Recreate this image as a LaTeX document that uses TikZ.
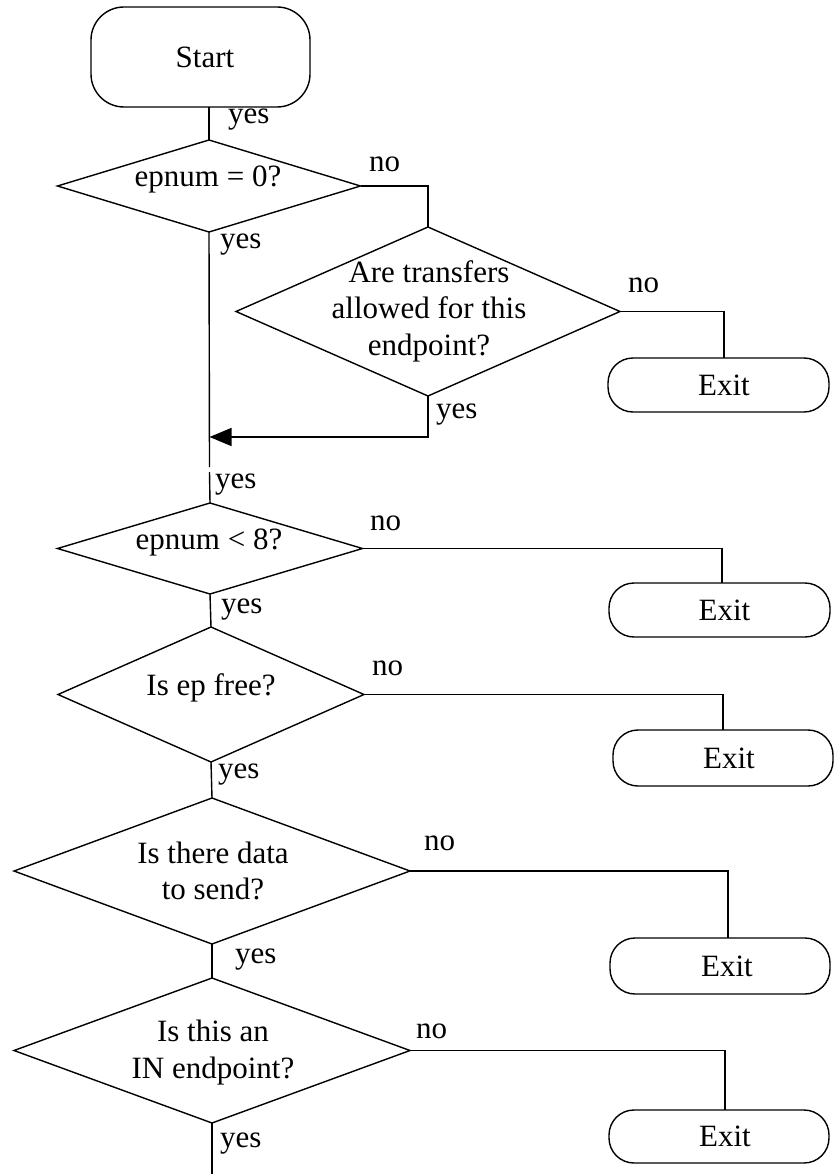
\documentclass[tikz,border=0pt]{standalone}
\usepackage{fontspec}
\setmainfont{Liberation Serif}
\usetikzlibrary{arrows.meta,shapes.geometric}
\begin{document}
\begin{tikzpicture}[x=1pt,y=-1pt,line width=1.4pt,
  every node/.style={font=\fontsize{31}{36.5}\selectfont,inner sep=0pt,outer sep=0pt},
  term/.style={draw,rectangle,rounded corners=25pt,minimum width=221pt,minimum height=54pt},
  dia/.style={draw,diamond},
  lbl/.style={anchor=base west},
  txt/.style={anchor=base},
  mtxt/.style={align=center}]
\useasboundingbox (0,0) rectangle (833,1174);
% shapes
\node[term,rounded corners=33pt,minimum width=219pt,minimum height=100pt,label={[xshift=4.5pt]center:Start}] (start) at (200.5,57) {};
\node[dia,minimum width=303pt,minimum height=92pt] (d1) at (209,186) {};
\node[txt] (t1) at (208,187) {epnum = 0?};
\node[dia,minimum width=384pt,minimum height=169pt] (d2) at (428,311.5) {};
\node[mtxt] (t2) at (429,311) {Are transfers\\allowed for this\\endpoint?};
\node[term,label={[xshift=5.5pt]center:Exit}] (e1) at (718.5,385) {};
\node[dia,minimum width=305pt,minimum height=91pt] (d3) at (210,548.5) {};
\node[txt] (t3) at (209,549) {epnum < 8?};
\node[term,label={[xshift=5pt]center:Exit}] (e2) at (719.5,610) {};
\node[dia,minimum width=306pt,minimum height=135pt] (d4) at (211,694.5) {};
\node[txt] (t4) at (211,695) {Is ep free?};
\node[term,minimum width=220pt,minimum height=56pt,label={[xshift=6pt]center:Exit}] (e3) at (723,758) {};
\node[dia,minimum width=396pt,minimum height=146pt] (d5) at (212,871) {};
\node[mtxt] (t5) at (213,871) {Is there data\\to send?};
\node[term,minimum width=220pt,minimum height=56pt,label={[xshift=7pt]center:Exit}] (e4) at (720,966) {};
\node[dia,minimum width=396pt,minimum height=145pt] (d6) at (212,1050.5) {};
\node[mtxt] (t6) at (213,1052.3) {Is this an\\IN endpoint?};
\node[term,minimum width=220pt,minimum height=53pt,label={[xshift=6pt]center:Exit}] (e5) at (719,1136.5) {};
% free ends
\coordinate (g1) at (209.5,467);
\coordinate (g2) at (209.5,472);
\coordinate (j) at (209.5,437);
\coordinate (bottom) at (212,1174);
% connectors
\draw (d1.north |- start.south) -- (d1.north);
\draw (d1.east) -| (d2.north);
\draw (d2.east) -| ([xshift=5.5pt]e1.north);
\draw (d1.south) -- (g1);
\draw (g2) -- (d3.north);
\draw[-{Triangle[length=22pt,width=18pt]}] (d2.south) |- (j);
\draw (d3.east) -| ([xshift=2.5pt]e2.north);
\draw (d3.south) -- (d4.north);
\draw (d4.east) -| (e3.north);
\draw (d4.south) -- (d5.north);
\draw (d5.east) -| ([xshift=8pt]e4.north);
\draw (d5.south) -- (d6.north);
\draw (d6.east) -| ([xshift=6pt]e5.north);
\draw (d6.south) -- (bottom);
% labels
\node[lbl] (y1) at (228,124) {yes};
\node[lbl] (n1) at (369,172) {no};
\node[lbl] (y2) at (220,248) {yes};
\node[lbl] (n2) at (628,292) {no};
\node[lbl] (y3) at (436,418) {yes};
\node[lbl] (y4) at (215,488) {yes};
\node[lbl] (n3) at (370,530) {no};
\node[lbl] (y5) at (221,613) {yes};
\node[lbl] (n4) at (372,675) {no};
\node[lbl] (y6) at (218,778) {yes};
\node[lbl] (n5) at (424,850) {no};
\node[lbl] (y7) at (235,963) {yes};
\node[lbl] (n6) at (416,1038) {no};
\node[lbl] (y8) at (220,1147) {yes};
\end{tikzpicture}
\end{document}
